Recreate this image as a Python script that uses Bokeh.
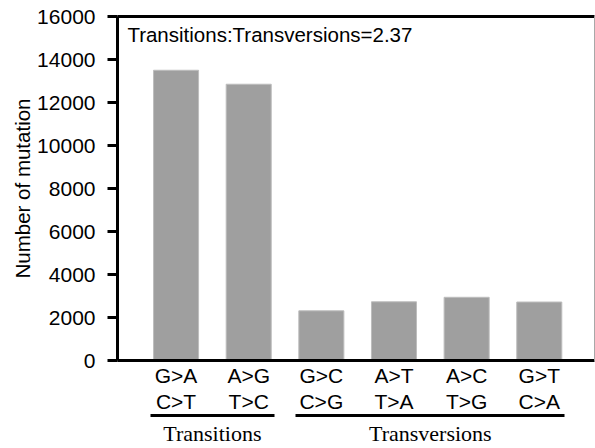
from bokeh.plotting import figure
from bokeh.models import (Range1d, FixedTicker, LinearAxis, Label, ColumnDataSource)
from bokeh.embed import file_html
from bokeh.resources import INLINE

# ---- data ----
top_labels = ["G>A", "A>G", "G>C", "A>T", "A>C", "G>T"]
bottom_labels = ["C>T", "T>C", "C>G", "T>A", "T>G", "C>A"]
counts = [13500, 12850, 2310, 2730, 2940, 2720]
groups = ["Transitions", "Transversions"]
group_sizes = [2, 4]
ratio_text = "Transitions:Transversions=2.37"
y_ticks = [0, 2000, 4000, 6000, 8000, 10000, 12000, 14000, 16000]

xs = list(range(len(counts)))
src = ColumnDataSource(dict(x=xs, top=counts))

p = figure(width=595, height=448, output_backend="svg", toolbar_location=None,
           x_range=Range1d(-0.806, 5.76), y_range=Range1d(0, 16000),
           min_border_left=117, min_border_top=16, min_border_right=1,
           min_border_bottom=86)
p.background_fill_color = "white"
p.border_fill_color = "white"
p.grid.visible = False
p.outline_line_color = None

p.vbar(x="x", top="top", width=0.62, bottom=0, source=src,
       fill_color="#9f9f9f", line_color="#bdbdbd", line_width=1)

# y axis
ya = p.yaxis[0]
ya.ticker = FixedTicker(ticks=y_ticks)
ya.axis_label = "Number of mutation"
ya.axis_label_text_font = "Liberation Sans"
ya.axis_label_text_font_style = "normal"
ya.axis_label_text_font_size = "20.5px"
ya.axis_label_text_color = "black"
ya.axis_label_standoff = 0
ya.major_label_text_font = "Liberation Sans"
ya.major_label_text_font_size = "21px"
ya.major_label_text_color = "black"
ya.major_label_standoff = 12
ya.axis_line_width = 3
ya.major_tick_line_width = 3
ya.major_tick_in = 0
ya.major_tick_out = 10
ya.minor_tick_line_color = None

# x axis with two-line labels
xa = p.xaxis[0]
xa.ticker = FixedTicker(ticks=xs)
xa.major_label_overrides = {i: f"{a}\n{b}" for i, (a, b) in enumerate(zip(top_labels, bottom_labels))}
xa.major_label_text_font = "Liberation Sans"
xa.major_label_text_font_size = "21px"
xa.major_label_text_color = "black"
xa.major_label_text_line_height = 1.15
xa.major_label_standoff = -3
xa.axis_line_width = 3
xa.major_tick_line_color = None
xa.minor_tick_line_color = None

# top border line and thin right border line
ta = LinearAxis(ticker=FixedTicker(ticks=[]))
ta.axis_line_color = "black"
ta.axis_line_width = 3
ta.major_tick_line_color = None
ta.minor_tick_line_color = None
ta.major_tick_out = 0
ta.major_label_standoff = 0
ta.major_label_text_font_size = "0px"
p.add_layout(ta, "above")

ra = LinearAxis(ticker=FixedTicker(ticks=[]))
ra.axis_line_color = "#a8a8a8"
ra.axis_line_width = 1
ra.major_tick_line_color = None
ra.minor_tick_line_color = None
ra.major_tick_out = 0
ra.major_label_standoff = 0
ra.major_label_text_font_size = "0px"
p.add_layout(ra, "right")

# group spans and centers
centers = []
spans = []
start = 0
for n in group_sizes:
    end = start + n - 1
    centers.append((start + end) / 2)
    spans.append((start - 0.35, end + 0.35))
    start += n

# underline axes (bounded axis lines)
for (a, b) in spans:
    ua = LinearAxis(ticker=FixedTicker(ticks=[]), bounds=(a, b))
    ua.axis_line_color = "black"
    ua.axis_line_width = 3
    ua.major_tick_line_color = None
    ua.minor_tick_line_color = None
    ua.major_tick_out = 0
    ua.major_tick_in = 0
    ua.minor_tick_out = 0
    ua.minor_tick_in = 0
    ua.major_label_standoff = 0
    ua.major_label_text_font_size = "0px"
    p.add_layout(ua, "below")

# group label axis
ga = LinearAxis(ticker=FixedTicker(ticks=centers),
                major_label_overrides={c: g for c, g in zip(centers, groups)})
ga.axis_line_color = None
ga.major_tick_line_color = None
ga.minor_tick_line_color = None
ga.major_tick_out = 0
ga.major_tick_in = 0
ga.major_label_text_font = "Liberation Serif"
ga.major_label_text_font_size = "22px"
ga.major_label_text_color = "black"
ga.major_label_standoff = 5
p.add_layout(ga, "below")

p.add_layout(Label(x=-0.67, y=15720, text=ratio_text, text_baseline="top",
                   text_font="Liberation Sans", text_font_size="20.5px", text_color="black"))

open("out.html", "w").write(file_html(p, INLINE))
